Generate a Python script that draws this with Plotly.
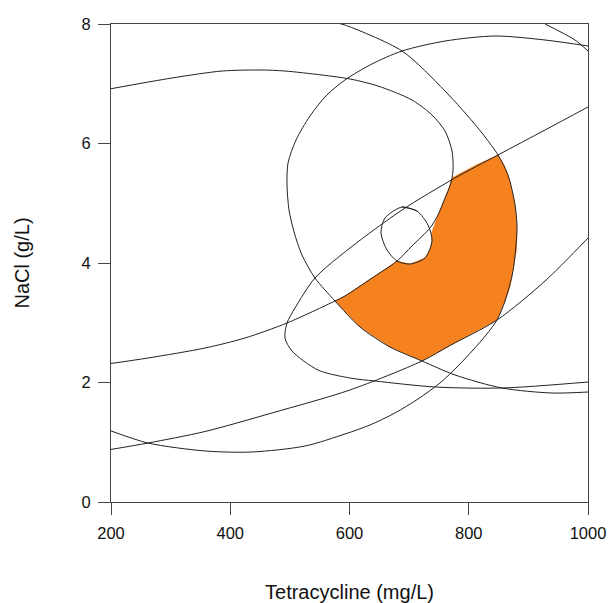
import plotly.graph_objects as go

# ---- data (Tetracycline mg/L, NaCl g/L) ----
a_x = [200, 302.3, 386.2, 453.2, 491.8, 553.9, 600.8, 647.8, 704.8, 738.4, 760.2, 771.9, 773.6,
       769.0, 760.2, 748.4, 735.0, 704.8, 679.7, 637.7, 592.4, 575.7, 495.2, 424.7, 357.6, 262.1, 200]
a_y = [6.917, 7.096, 7.213, 7.230, 7.213, 7.146, 7.080, 6.962, 6.728, 6.477, 6.209, 5.874, 5.540,
       5.300, 5.088, 4.803, 4.586, 4.285, 4.033, 3.749, 3.448, 3.364, 2.996, 2.745, 2.577, 2.410, 2.318]

b_x = [1000, 927.9, 849.1, 776.9, 688.1, 600.8, 542.1, 508.6, 495.2, 491.8, 503.6, 547.2, 600.8,
       642.8, 743.4, 855.8, 1000]
b_y = [6.611, 6.226, 5.808, 5.423, 4.887, 4.251, 3.749, 3.247, 2.996, 2.745, 2.527, 2.209, 2.075,
       2.025, 1.925, 1.908, 2.008]

h_x = [1000, 927.9, 844.0, 760.2, 688.1, 637.7, 592.4, 560.5, 533.7, 510.3, 496.9, 495.2, 498.6,
       507.0, 520.3, 542.1, 575.7, 617.6, 667.9, 721.6, 776.9, 855.8, 939.6, 1000]
h_y = [7.632, 7.732, 7.799, 7.715, 7.548, 7.331, 7.063, 6.795, 6.460, 6.058, 5.674, 5.305, 4.887,
       4.519, 4.134, 3.749, 3.364, 2.929, 2.594, 2.360, 2.126, 1.908, 1.824, 1.841]

g_x = [585.0, 592.4, 688.1, 760.2, 815.5, 849.1, 865.8, 877.6, 880.9, 874.2, 860.8, 847.4, 829.0,
       807.2, 782.0, 751.8, 714.9, 676.3, 634.4, 592.4, 525.4, 436.5, 357.6, 262.1, 200]
g_y = [8.0, 7.983, 7.548, 6.879, 6.259, 5.808, 5.473, 4.971, 4.586, 3.866, 3.364, 3.046, 2.795,
       2.544, 2.276, 1.992, 1.724, 1.490, 1.289, 1.138, 0.937, 0.837, 0.854, 0.987, 1.190]

e_x = [200, 262.1, 357.6, 470.0, 600.8, 721.6, 768.5, 847.4, 927.9, 1000]
e_y = [0.880, 0.987, 1.180, 1.490, 1.875, 2.360, 2.619, 3.046, 3.699, 4.418]

j_x = [927.9, 978.2, 1000]
j_y = [8.0, 7.732, 7.548]

c_x = [688.1, 713.2, 731.7, 738.4, 726.6, 701.5, 679.7, 662.9, 652.8, 659.5, 688.1, 713.2]
c_y = [4.937, 4.870, 4.636, 4.368, 4.084, 3.983, 4.033, 4.218, 4.502, 4.753, 4.937, 4.870]

# sweet-spot (overlay) region boundary
o_x = [772.7, 812.2, 849.1, 859.1, 865.8, 872.5, 877.6, 880.9, 880.1, 874.2, 869.2, 860.8, 847.4,
       805.4, 768.5, 721.6, 667.9, 617.6, 575.7, 592.4, 637.7, 679.7, 701.5, 726.6, 735.0, 738.4,
       737.5, 748.4, 760.2, 772.7]
o_y = [5.431, 5.640, 5.808, 5.640, 5.473, 5.222, 4.971, 4.586, 4.218, 3.866, 3.598, 3.364, 3.046,
       2.821, 2.619, 2.360, 2.594, 2.929, 3.364, 3.448, 3.749, 4.033, 3.983, 4.084, 4.234, 4.368,
       4.502, 4.803, 5.088, 5.431]

x_ticks = [200, 400, 600, 800, 1000]
y_ticks = [0, 2, 4, 6, 8]

LINE = "#222222"
ORANGE = "#F5821F"
FONT = "Liberation Sans, Arial, sans-serif"

fig = go.Figure()
fig.add_trace(go.Scatter(x=o_x, y=o_y, mode="lines", fill="toself", fillcolor=ORANGE,
                         line=dict(color=ORANGE, width=0.5), hoverinfo="skip", showlegend=False))
for xs, ys in [(a_x, a_y), (b_x, b_y), (h_x, h_y), (g_x, g_y), (e_x, e_y), (j_x, j_y), (c_x, c_y)]:
    fig.add_trace(go.Scatter(x=xs, y=ys, mode="lines",
                             line=dict(color=LINE, width=1, shape="spline", smoothing=0.8),
                             showlegend=False))

axis_common = dict(showgrid=False, zeroline=False, showline=True, linecolor="#444444", linewidth=1,
                   mirror=True, ticks="outside", ticklen=12, tickcolor="#444444", tickwidth=1,
                   ticklabelstandoff=4,
                   tickfont=dict(family=FONT, size=16.5, color="#111"),
                   automargin=False)

fig.update_layout(
    width=609, height=603,
    margin=dict(l=111, r=21, t=24, b=101),
    paper_bgcolor="white", plot_bgcolor="white",
    xaxis=dict(range=[200, 1000], tickvals=x_ticks,
               title=dict(text="Tetracycline (mg/L)", standoff=46,
                          font=dict(family=FONT, size=20, color="#111")),
               **axis_common),
    yaxis=dict(range=[0, 8], tickvals=y_ticks,
               title=dict(text="NaCl (g/L)", standoff=46,
                          font=dict(family=FONT, size=20, color="#111")),
               **axis_common),
)

fig.write_html("out.html")
